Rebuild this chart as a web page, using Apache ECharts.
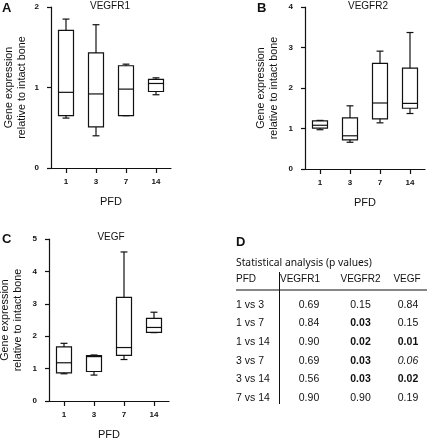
<!DOCTYPE html>
<html><head><meta charset="utf-8">
<script src="https://cdn.jsdelivr.net/npm/echarts@6/dist/echarts.min.js"></script>
<style>html,body{margin:0;padding:0;background:#fff}#c{width:427px;height:440px}</style>
</head><body><div id="c"></div>
<script>
// ---- data ----
const categories = ['1', '3', '7', '14'];
// each entry: [min, Q1, median, Q3, max]
const vegfr1 = [[0.62, 0.65, 0.94, 1.71, 1.85], [0.40, 0.51, 0.92, 1.43, 1.78], [0.65, 0.65, 0.98, 1.27, 1.29], [0.91, 0.95, 1.05, 1.10, 1.12]];
const vegfr2 = [[0.97, 1.01, 1.08, 1.19, 1.20], [0.66, 0.72, 0.82, 1.26, 1.56], [1.14, 1.24, 1.63, 2.61, 2.91], [1.37, 1.50, 1.62, 2.49, 3.37]];
const vegf = [[0.84, 0.87, 1.18, 1.67, 1.78], [0.80, 0.91, 1.37, 1.40, 1.42], [1.28, 1.41, 1.65, 3.20, 4.60], [2.11, 2.12, 2.27, 2.55, 2.74]];
const yMaxA = 2, yMaxB = 4, yMaxC = 5;
const tableHeaders = ['PFD', 'VEGFR1', 'VEGFR2', 'VEGF'];
const comparisons = ['1 vs 3', '1 vs 7', '1 vs 14', '3 vs 7', '3 vs 14', '7 vs 14'];
const pVEGFR1 = [0.69, 0.84, 0.90, 0.69, 0.56, 0.90];
const pVEGFR2 = [0.15, 0.03, 0.02, 0.03, 0.03, 0.90];
const pVEGF = [0.84, 0.15, 0.01, 0.06, 0.02, 0.19];

// ---- layout ----
const FONT = '"Liberation Sans", Arial, sans-serif';
const INK = '#111';
const grids = [
  {left: 51, top: 7, width: 120, height: 161},
  {left: 305, top: 7, width: 120, height: 162},
  {left: 49, top: 239, width: 120, height: 162}
];
const yMaxes = [yMaxA, yMaxB, yMaxC];
const datasets = [vegfr1, vegfr2, vegf];
const titles = [['VEGFR1', 110, 1.5], ['VEGFR2', 368, 1.5], ['VEGF', 111, 232]];
const nameGaps = [22, 24, 24];

function boxRender(params, api) {
  const i = api.value(0);
  const band = api.size([1, 0])[0];
  const bw = band * 0.5, cw = band * 0.23;
  const pMin = api.coord([i, api.value(1)]);
  const pQ1 = api.coord([i, api.value(2)]);
  const pMed = api.coord([i, api.value(3)]);
  const pQ3 = api.coord([i, api.value(4)]);
  const pMax = api.coord([i, api.value(5)]);
  const x = pMed[0];
  const st = {stroke: INK, lineWidth: 1.2, fill: null};
  const line = (x1, y1, x2, y2) => ({type: 'line', shape: {x1, y1, x2, y2}, style: st});
  return {type: 'group', children: [
    {type: 'rect', shape: {x: x - bw / 2, y: pQ3[1], width: bw, height: pQ1[1] - pQ3[1]}, style: {stroke: INK, lineWidth: 1.2, fill: '#fff'}},
    line(x - bw / 2, pMed[1], x + bw / 2, pMed[1]),
    line(x, pQ3[1], x, pMax[1]),
    line(x, pQ1[1], x, pMin[1]),
    line(x - cw / 2, pMax[1], x + cw / 2, pMax[1]),
    line(x - cw / 2, pMin[1], x + cw / 2, pMin[1])
  ]};
}

const option = {
  animation: false,
  backgroundColor: '#fff',
  title: titles.map(t => ({text: t[0], left: t[1], top: t[2], textAlign: 'center', padding: 0,
    textStyle: {fontSize: 10, fontWeight: 'normal', color: INK, fontFamily: FONT}})),
  grid: grids.map(g => Object.assign({containLabel: false, outerBoundsMode: 'none'}, g)),
  xAxis: grids.map((g, k) => ({
    type: 'category', gridIndex: k, data: categories, boundaryGap: true,
    name: 'PFD', nameLocation: 'middle', nameGap: 28,
    nameTextStyle: {fontSize: 11, color: INK, fontFamily: FONT},
    axisLine: {show: true, lineStyle: {color: INK, width: 1.2}},
    axisTick: {show: true, alignWithLabel: true, length: 5, lineStyle: {color: INK, width: 1.2}},
    axisLabel: {show: true, margin: 10, fontSize: 8, fontWeight: 'bold', color: INK, fontFamily: FONT},
    splitLine: {show: false}
  })),
  yAxis: grids.map((g, k) => ({
    type: 'value', gridIndex: k, min: 0, max: yMaxes[k], interval: 1,
    name: 'Gene expression\nrelative to intact bone', nameLocation: 'middle', nameRotate: 90,
    nameGap: nameGaps[k], nameMoveOverlap: false,
    nameTextStyle: {fontSize: 10.8, lineHeight: 13, color: INK, fontFamily: FONT, align: 'center'},
    axisLine: {show: true, lineStyle: {color: INK, width: 1.2}},
    axisTick: {show: true, length: 4, lineStyle: {color: INK, width: 1.2}},
    axisLabel: {show: true, margin: 12, fontSize: 8, fontWeight: 'bold', color: INK, fontFamily: FONT},
    splitLine: {show: false}
  })),
  series: datasets.map((d, k) => ({
    type: 'custom', xAxisIndex: k, yAxisIndex: k,
    renderItem: boxRender,
    encode: {x: 0, y: [1, 2, 3, 4, 5]},
    data: d.map((v, i) => [i].concat(v))
  })),
  graphic: []
};

// panel letters
const letters = [['A', 2, 2], ['B', 257, 2], ['C', 2, 233], ['D', 236, 236]];
letters.forEach(l => option.graphic.push({type: 'text', left: l[1], top: l[2],
  style: {text: l[0], fontSize: 13, fontWeight: 'bold', fill: INK, fontFamily: FONT}}));

// statistics table
const TX = 236, titleY = 263, headY = 279, rowY0 = 305, rowDY = 18.55;
const headX = [236, 300, 360.5, 407];
const valX = [309, 360.5, 408];
const G = option.graphic;
function txt(s, x, y, align, extra) {
  G.push({type: 'text', x: x, y: y, style: Object.assign({text: s, fontSize: 10.5, fill: INK, fontFamily: FONT,
    textAlign: align, textVerticalAlign: 'middle'}, extra || {})});
}
txt('Statistical analysis (p values)', TX, titleY, 'left', {fontFamily: '"Noto Sans", sans-serif', fontSize: 10.3});
tableHeaders.forEach((h, j) => txt(h, headX[j], headY, j === 0 ? 'left' : 'center', {fontSize: 10}));
G.push({type: 'line', shape: {x1: TX, y1: 290, x2: 427, y2: 290}, style: {stroke: INK, lineWidth: 1.2}});
G.push({type: 'line', shape: {x1: 279.5, y1: 272, x2: 279.5, y2: 404}, style: {stroke: INK, lineWidth: 1}});
const cols = [pVEGFR1, pVEGFR2, pVEGF];
comparisons.forEach((c, r) => {
  const y = rowY0 + r * rowDY;
  txt(c, TX, y, 'left');
  cols.forEach((col, j) => {
    const p = col[r];
    const ex = p < 0.05 ? {fontWeight: 'bold'} : (p < 0.1 ? {fontStyle: 'italic'} : {});
    txt(p.toFixed(2), valX[j], y, 'center', ex);
  });
});

const chart = echarts.init(document.getElementById('c'), null, {renderer: 'canvas'});
chart.setOption(option);
</script></body></html>
